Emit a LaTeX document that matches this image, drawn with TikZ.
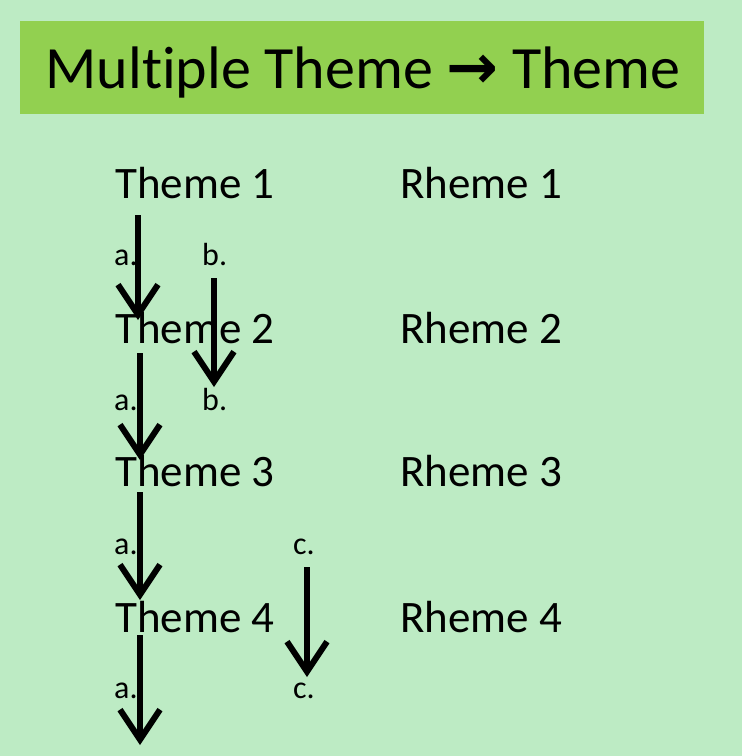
\documentclass[tikz,border=0pt]{standalone}
\usepackage{fontspec}
\setmainfont[Ligatures=NoCommon]{Carlito}
\newfontfamily\arrowfont{DejaVu Sans}
\usetikzlibrary{arrows.meta}
\definecolor{bgc}{HTML}{BDEBC4}
\definecolor{titlec}{HTML}{92D050}
\tikzset{
  bodytext/.style={anchor=base west, inner sep=0pt, font=\fontsize{45}{52}\selectfont},
  lbl/.style={anchor=base west, inner sep=0pt, font=\fontsize{32}{38}\selectfont},
  darrow/.style={line width=6pt, -{Straight Barb[length=30pt,width=40pt,line width=6pt]}}
}
\begin{document}
\begin{tikzpicture}[x=1pt,y=-1pt]
\fill[bgc] (0,0) rectangle (742,756);
\useasboundingbox (0,0) rectangle (742,756);
\fill[titlec] (20,21) rectangle (704,114);
\node[anchor=base, inner sep=0pt, font=\fontsize{60}{70}\selectfont] (title) at (363,88) {Multiple Theme {\arrowfont\bfseries\fontsize{62}{70}\selectfont →} Theme};
% themes and rhemes
\node[bodytext] (t1) at (115,198) {Theme 1};
\node[bodytext] (t2) at (115,343) {Theme 2};
\node[bodytext] (t3) at (115,486) {Theme 3};
\node[bodytext] (t4) at (115,632) {Theme 4};
\node[bodytext] (r1) at (400,198) {Rheme 1};
\node[bodytext] (r2) at (400,343) {Rheme 2};
\node[bodytext] (r3) at (400,486) {Rheme 3};
\node[bodytext] (r4) at (400,632) {Rheme 4};
% labels
\node[lbl] (la1) at (114,265) {a.};
\node[lbl] (lb1) at (202,265) {b.};
\node[lbl] (la2) at (114,410) {a.};
\node[lbl] (lb2) at (202,410) {b.};
\node[lbl] (la3) at (114,554) {a.};
\node[lbl] (lc1) at (293,554) {c.};
\node[lbl] (la4) at (114,698) {a.};
\node[lbl] (lc2) at (293,698) {c.};
% arrow ends
\coordinate (a1s) at (138,215); \coordinate (a1e) at (138,320);
\coordinate (b1s) at (214,278); \coordinate (b1e) at (214,387);
\coordinate (a2s) at (140,353); \coordinate (a2e) at (140,460);
\coordinate (a3s) at (140,492); \coordinate (a3e) at (140,600);
\coordinate (c1s) at (307,567); \coordinate (c1e) at (307,677);
\coordinate (a4s) at (140,635); \coordinate (a4e) at (140,745);
\draw[darrow] (a1s) -- (a1e);
\draw[darrow] (b1s) -- (b1e);
\draw[darrow] (a2s) -- (a2e);
\draw[darrow] (a3s) -- (a3e);
\draw[darrow] (c1s) -- (c1e);
\draw[darrow] (a4s) -- (a4e);
\end{tikzpicture}
\end{document}
